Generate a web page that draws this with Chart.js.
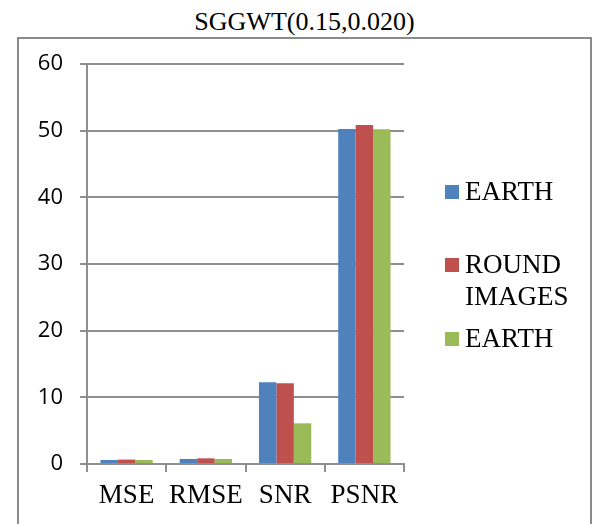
<!DOCTYPE html>
<html>
<head>
<meta charset="utf-8">
<script src="https://cdn.jsdelivr.net/npm/chart.js@4/dist/chart.umd.min.js"></script>
<style>
  html, body { margin: 0; padding: 0; background: #fff; overflow: hidden; }
  #wrap { position: relative; width: 597px; height: 524px; }
  #title {
    position: absolute; left: 6px; top: 6px; width: 597px; text-align: center;
    font-family: 'Liberation Serif', 'Times New Roman', serif; font-size: 26px; line-height: 32px; color: #000;
  }
  #frame {
    position: absolute; left: 17px; top: 37px; width: 575px; height: 520px;
    border: 2px solid #8a8a8a; box-sizing: border-box;
  }
  #chartCanvas { position: absolute; left: 0; top: 0; }
  .leg {
    position: absolute; left: 445px; width: 140px;
    font-family: 'Liberation Serif', 'Times New Roman', serif; font-size: 27px; line-height: 32px; color: #000;
  }
  .leg .sw { position: absolute; left: 0; top: 10px; width: 14px; height: 14px; }
  .leg .tx { margin-left: 20px; }
</style>
</head>
<body>
<div id="wrap">
  <div id="title">SGGWT(0.15,0.020)</div>
  <div id="frame"></div>
  <canvas id="chartCanvas" width="597" height="524"></canvas>
  <div id="legend"></div>
</div>
<script>
const categories = ['MSE', 'RMSE', 'SNR', 'PSNR'];
const earthValues = [0.6, 0.75, 12.25, 50.25];
const roundImagesValues = [0.66, 0.85, 12.1, 50.85];
const earth2Values = [0.6, 0.75, 6.1, 50.2];
const yTicks = [0, 10, 20, 30, 40, 50, 60];

const seriesNames = ['EARTH', 'ROUND IMAGES', 'EARTH'];
const seriesColors = ['#4F81BD', '#C0504D', '#9BBB59'];
const legendTops = [175, 248, 322];

document.addEventListener('DOMContentLoaded', function() {
    const ctx = document.getElementById('chartCanvas').getContext('2d');
    const gridColor = '#8f8f8f';

    const data = {
        labels: categories,
        datasets: [earthValues, roundImagesValues, earth2Values].map(function(vals, i) {
            return {
                label: seriesNames[i],
                data: vals,
                backgroundColor: seriesColors[i],
                borderWidth: 0,
                barPercentage: 1,
                categoryPercentage: 0.66
            };
        })
    };

    const chart = new Chart(ctx, {
        type: 'bar',
        data: data,
        options: {
            responsive: false,
            animation: false,
            layout: { padding: { top: 64, right: 193, left: 0, bottom: 0 } },
            plugins: {
                legend: { display: false },
                tooltip: { enabled: false }
            },
            scales: {
                x: {
                    grid: {
                        display: true,
                        drawOnChartArea: false,
                        drawTicks: true,
                        tickLength: 8,
                        offset: true,
                        color: gridColor,
                        lineWidth: 2
                    },
                    border: { display: true, color: gridColor, width: 2 },
                    ticks: {
                        color: '#000',
                        padding: 8,
                        maxRotation: 0,
                        font: { family: "'Liberation Serif', 'Times New Roman', serif", size: 27 }
                    },
                    afterFit: function(scale) { scale.height = 60; }
                },
                y: {
                    min: 0,
                    max: 60,
                    afterBuildTicks: function(scale) {
                        scale.ticks = yTicks.map(function(v) { return { value: v }; });
                    },
                    grid: {
                        color: gridColor,
                        lineWidth: 2,
                        tickLength: 7
                    },
                    border: { display: true, color: gridColor, width: 2 },
                    ticks: {
                        color: '#000',
                        padding: 17,
                        font: { family: "'Open Sans', sans-serif", size: 22 }
                    },
                    afterFit: function(scale) { scale.width = 87; }
                }
            }
        }
    });

    // HTML legend built from the datasets
    const legend = document.getElementById('legend');
    chart.data.datasets.forEach(function(ds, i) {
        const item = document.createElement('div');
        item.className = 'leg';
        item.style.top = legendTops[i] + 'px';
        const sw = document.createElement('span');
        sw.className = 'sw';
        sw.style.background = ds.backgroundColor;
        const tx = document.createElement('div');
        tx.className = 'tx';
        tx.textContent = ds.label;
        item.appendChild(sw);
        item.appendChild(tx);
        legend.appendChild(item);
    });
});
</script>
</body>
</html>
